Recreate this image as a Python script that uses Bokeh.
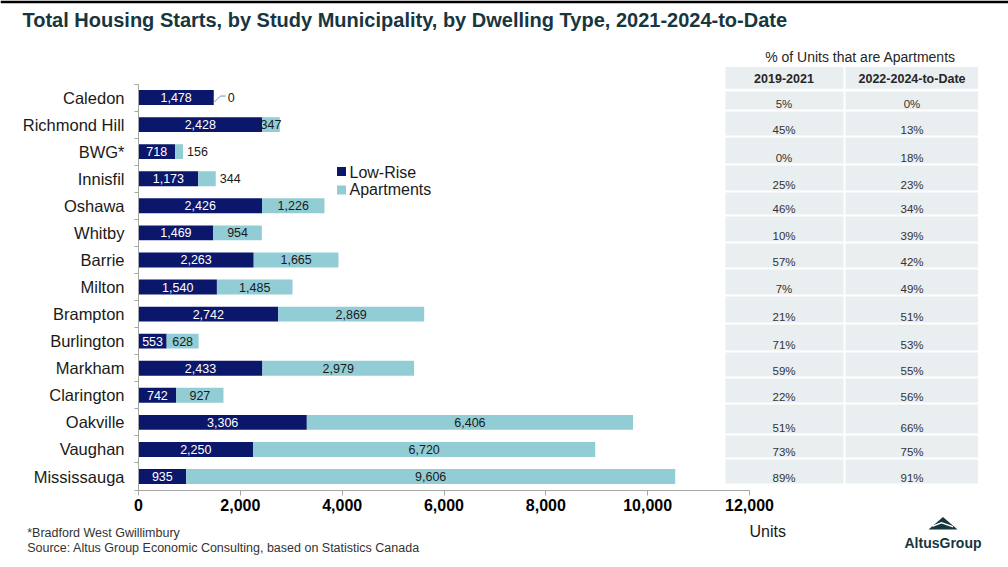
from bokeh.plotting import figure
from bokeh.models import Range1d, FixedTicker, NumeralTickFormatter, CustomJSTickFormatter
from bokeh.core.properties import value
from bokeh.embed import file_html
from bokeh.resources import INLINE

# ---------------- data ----------------
municipalities = ["Caledon", "Richmond Hill", "BWG*", "Innisfil", "Oshawa", "Whitby", "Barrie",
                  "Milton", "Brampton", "Burlington", "Markham", "Clarington", "Oakville",
                  "Vaughan", "Mississauga"]
low_rise = [1478, 2428, 718, 1173, 2426, 1469, 2263, 1540, 2742, 553, 2433, 742, 3306, 2250, 935]
apartments = [0, 347, 156, 344, 1226, 954, 1665, 1485, 2869, 628, 2979, 927, 6406, 6720, 9606]
pct_2019_2021 = ["5%", "45%", "0%", "25%", "46%", "10%", "57%", "7%", "21%", "71%", "59%",
                 "22%", "51%", "73%", "89%"]
pct_2022_2024 = ["0%", "13%", "18%", "23%", "34%", "39%", "42%", "49%", "51%", "53%", "55%",
                 "56%", "66%", "75%", "91%"]
table_title = "% of Units that are Apartments"
table_headers = ["2019-2021", "2022-2024-to-Date"]
series_names = ["Low-Rise", "Apartments"]
x_ticks = [0, 2000, 4000, 6000, 8000, 10000, 12000]
title_text = "Total Housing Starts, by Study Municipality, by Dwelling Type, 2021-2024-to-Date"
footnote = "*Bradford West Gwillimbury"
source_text = "Source:  Altus Group Economic Consulting, based on Statistics Canada"
x_title = "Units"
logo_text = "AltusGroup"

# ---------------- style / layout ----------------
FONT = "Liberation Sans"
NAVY = "#0B176B"
TEAL = "#92CDD5"
CELL = "#E9EEF1"
GREY = "#A6A6A6"
TITLE_C = "#17363F"

W, H = 1008, 567
X0_PX = 138.0               # page px of x = 0
Y0_PX = 83.5                # page px of top of first category
PX_X = 611.0 / 12000.0      # px per unit
PX_ROW = 27.07              # px per category
n = len(municipalities)


def rx(px):
    return (px - X0_PX) / PX_X


def ry(py):
    return (py - Y0_PX) / PX_ROW


p = figure(width=W, height=H, x_range=Range1d(rx(0), rx(W)), y_range=Range1d(ry(H), ry(0)),
           toolbar_location=None, output_backend="svg", min_border=0,
           min_border_left=0, min_border_right=0, min_border_top=0, min_border_bottom=0,
           outline_line_color=None)
p.grid.visible = False

# top rule
p.quad(left=[rx(0)], right=[rx(W)], top=[ry(0)], bottom=[ry(2.7)], color="#000000",
       line_color=None)

ys = [i + 0.5 for i in range(n)]
totals = [a + b for a, b in zip(low_rise, apartments)]
p.hbar(y=ys, left=0, right=low_rise, height=0.55, color=NAVY, line_color=None)
p.hbar(y=ys, left=low_rise, right=totals, height=0.55, color=TEAL, line_color=None)

# value labels
p.text(x=[v / 2 for v in low_rise], y=ys, text=[f"{v:,}" for v in low_rise],
       text_font=value(FONT), text_font_size="12.5px", text_color="white",
       text_align="center", text_baseline="middle")

outside_px = {"Caledon": 14, "BWG*": 4, "Innisfil": 4}
ax, ay, atxt, aalign = [], [], [], []
for name, lo, ap, y in zip(municipalities, low_rise, apartments, ys):
    if name in outside_px:
        ax.append(lo + ap + outside_px[name] / PX_X)
        aalign.append("left")
    else:
        ax.append(lo + ap / 2)
        aalign.append("center")
    ay.append(y)
    atxt.append(f"{ap:,}")
p.text(x=ax, y=ay, text=atxt, text_font=value(FONT), text_font_size="12.5px",
       text_color="#1A1A1A", text_align=aalign, text_baseline="middle")

# leader line for Caledon's zero value
i0 = municipalities.index("Caledon")
end0 = totals[i0]
p.line(x=[end0 + d / PX_X for d in (0, 4, 7, 12)],
       y=[ys[i0] + d / PX_ROW for d in (5, 1, -1.5, -1.5)],
       line_color="#5B9BD5", line_width=1)

# legend (drawn)
leg_x = rx(341)
p.scatter(x=[leg_x, leg_x], y=[ry(171), ry(189.5)], marker="square", size=9,
          color=[NAVY, TEAL], line_color=None)
p.text(x=[rx(349)] * 2, y=[ry(171.5), ry(189)], text=series_names, text_font=value(FONT),
       text_font_size="16px", text_color="#1A1A1A", text_align="left", text_baseline="middle")

# table
c1 = (725, 843)
c2 = (845, 977.5)
row_bottoms = [109, 135, 163, 190, 214, 241, 267, 294, 322, 350, 376, 402, 433, 457, 483]
row_tops = [91] + [b + 2 for b in row_bottoms[:-1]]
lefts, rights, tops, bottoms = [], [], [], []
for (l, r) in (c1, c2):
    lefts.append(rx(l)); rights.append(rx(r)); tops.append(ry(66.5)); bottoms.append(ry(88.3))
    for t, b in zip(row_tops, row_bottoms):
        lefts.append(rx(l)); rights.append(rx(r)); tops.append(ry(t)); bottoms.append(ry(b))
p.quad(left=lefts, right=rights, top=tops, bottom=bottoms, color=CELL, line_color=None)

cx1, cx2 = rx(783.5), rx(911.5)
p.text(x=[rx(860)], y=[ry(56)], text=[table_title], text_font=value(FONT), text_font_size="14px",
       text_color="#262626", text_align="center", text_baseline="middle")
p.text(x=[cx1, cx2], y=[ry(78), ry(78)], text=table_headers, text_font=value(FONT),
       text_font_size="12.5px", text_font_style="bold", text_color="#262626",
       text_align="center", text_baseline="middle")
ty = [ry(b - 6) for b in row_bottoms]
p.text(x=[cx1] * n + [cx2] * n, y=ty + ty, text=pct_2019_2021 + pct_2022_2024,
       text_font=value(FONT), text_font_size="11.5px", text_color="#333333",
       text_align="center", text_baseline="middle")

# axes, pinned to the data origin so the frame can fill the canvas
xa = p.xaxis[0]
xa.fixed_location = n
xa.ticker = FixedTicker(ticks=x_ticks)
xa.formatter = NumeralTickFormatter(format="0,0")
xa.bounds = (0, 12000)
xa.axis_line_color = GREY
xa.major_tick_line_color = GREY
xa.major_tick_out = 5
xa.major_tick_in = 0
xa.minor_tick_line_color = None
xa.major_label_text_font = FONT
xa.major_label_text_font_size = "16px"
xa.major_label_text_font_style = "bold"
xa.major_label_text_color = "#000000"
xa.major_label_standoff = 4

ya = p.yaxis[0]
ya.fixed_location = 0
ya.ticker = FixedTicker(ticks=ys, minor_ticks=list(range(n + 1)))
ya.formatter = CustomJSTickFormatter(args=dict(names=municipalities),
                                     code="return names[Math.floor(tick)] || '';")
ya.bounds = (0, n)
ya.axis_line_color = GREY
ya.major_tick_line_color = None
ya.major_tick_out = 4
ya.major_tick_in = 0
ya.minor_tick_line_color = GREY
ya.minor_tick_out = 4
ya.minor_tick_in = 0
ya.major_label_standoff = 10
ya.major_label_text_font = FONT
ya.major_label_text_font_size = "16.5px"
ya.major_label_text_color = "#1A1A1A"

# ---------------- title / notes / logo ----------------
p.text(x=[rx(22)], y=[ry(19)], text=[title_text], text_font=value(FONT), text_font_size="20px",
       text_font_style="bold", text_color=TITLE_C, text_align="left", text_baseline="middle")
p.text(x=[rx(26.7)] * 2, y=[ry(532.5), ry(547.5)], text=[footnote, source_text],
       text_font=value(FONT), text_font_size="12.5px", text_color="#333333",
       text_align="left", text_baseline="middle")
p.text(x=[rx(749)], y=[ry(531)], text=[x_title], text_font=value(FONT), text_font_size="16px",
       text_color="#1A1A1A", text_align="left", text_baseline="middle")
p.patch(x=[rx(928), rx(942.5), rx(957)], y=[ry(529), ry(516.5), ry(529)],
        color=TITLE_C, line_color=None)
p.patch(x=[rx(932), rx(941), rx(952.5), rx(952.5), rx(941), rx(932)],
        y=[ry(525), ry(521.5), ry(525.5), ry(527), ry(523), ry(526.5)],
        color="white", line_color=None)
p.text(x=[rx(942.5)], y=[ry(542.3)], text=[logo_text], text_font=value(FONT),
       text_font_size="14px", text_font_style="bold", text_color=TITLE_C,
       text_align="center", text_baseline="middle")

open("out.html", "w").write(file_html(p, INLINE))
